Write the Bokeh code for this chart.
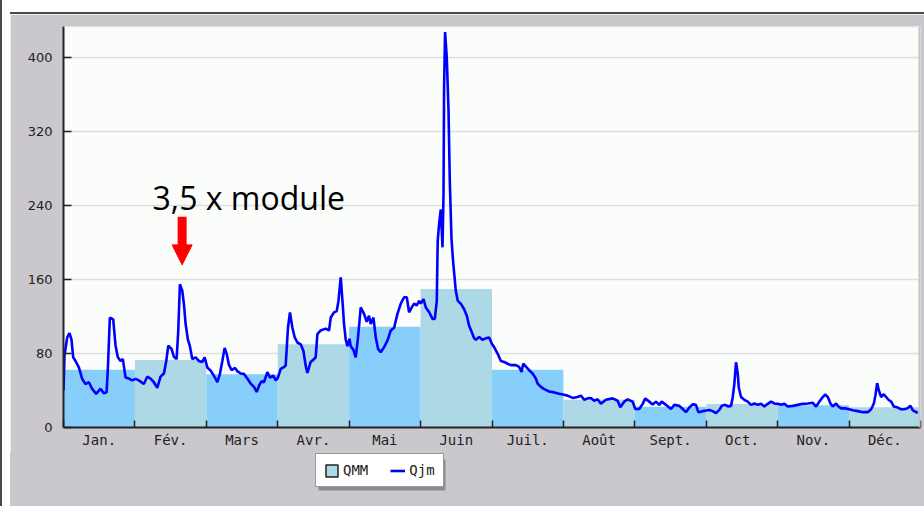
from bokeh.plotting import figure
from bokeh.models import (Range1d, FixedTicker, Label, Arrow, NormalHead, Legend,
                          LegendItem, Span, ColumnDataSource, Spacer, Div)
from bokeh.layouts import column, row
from bokeh.embed import file_html
from bokeh.resources import INLINE

months = ["Jan.", "Fév.", "Mars", "Avr.", "Mai", "Juin", "Juil.", "Août",
          "Sept.", "Oct.", "Nov.", "Déc."]
qmm = [62.5, 73, 57.5, 90, 109, 150, 62.5, 30, 22.5, 25.5, 24, 22]
y_ticks = [0, 80, 160, 240, 320, 400]
legend_labels = ["QMM", "Qjm"]

# daily flow (position in months from 1 January, value)
qjm_t = [0.0, 0.014, 0.052, 0.084, 0.112, 0.136, 0.168, 0.215, 0.262, 0.308, 0.355, 0.402,
         0.458, 0.518, 0.565, 0.603, 0.621, 0.649, 0.696, 0.729, 0.761, 0.799, 0.831, 0.869,
         0.915, 0.963, 1.009,
         1.055, 1.125, 1.173, 1.219, 1.265, 1.313, 1.359, 1.406, 1.439, 1.467, 1.513, 1.546,
         1.584, 1.607, 1.630, 1.663, 1.686, 1.710, 1.742, 1.770, 1.803, 1.850, 1.896, 1.944,
         1.976,
         2.014, 2.060, 2.106, 2.154, 2.190, 2.224, 2.256, 2.284, 2.316, 2.354, 2.401, 2.434,
         2.480, 2.527, 2.574, 2.620, 2.667, 2.705, 2.737, 2.771, 2.807, 2.855, 2.891, 2.939,
         2.971, 3.003,
         3.041, 3.079, 3.111, 3.143, 3.171, 3.205, 3.237, 3.275, 3.321, 3.359, 3.391, 3.415,
         3.461, 3.508, 3.531, 3.555, 3.601, 3.671, 3.718, 3.742, 3.788, 3.826, 3.850, 3.882,
         3.906, 3.928, 3.952, 3.976, 4.004,
         4.022, 4.060, 4.092, 4.124, 4.162, 4.208, 4.246, 4.278, 4.302, 4.340, 4.372, 4.405,
         4.442, 4.489, 4.536, 4.582, 4.629, 4.676, 4.723, 4.769, 4.807, 4.839, 4.877, 4.909,
         4.947, 4.979, 5.003,
         5.041, 5.073, 5.119, 5.167, 5.199, 5.227, 5.235, 5.240, 5.259, 5.283, 5.307, 5.321,
         5.329, 5.343, 5.367, 5.391, 5.409, 5.433, 5.455, 5.493, 5.521, 5.563, 5.610, 5.647,
         5.680, 5.713, 5.750, 5.774, 5.820, 5.867, 5.914, 5.960, 6.002,
         6.030, 6.078, 6.124, 6.170, 6.218, 6.264, 6.334, 6.380, 6.414, 6.437, 6.474, 6.521,
         6.568, 6.614, 6.638, 6.684, 6.731, 6.801, 6.871, 6.941, 7.007,
         7.058, 7.129, 7.199, 7.245, 7.291, 7.339, 7.385, 7.431, 7.479, 7.525, 7.595, 7.689,
         7.759, 7.796, 7.852, 7.899, 7.969, 8.006,
         8.062, 8.110, 8.146, 8.202, 8.250, 8.296, 8.342, 8.376, 8.436, 8.506, 8.553, 8.623,
         8.670, 8.716, 8.763, 8.810, 8.856, 8.889, 8.950, 9.001,
         9.043, 9.091, 9.137, 9.183, 9.217, 9.263, 9.309, 9.347, 9.371, 9.393, 9.417, 9.441,
         9.455, 9.487, 9.533, 9.581, 9.627, 9.673, 9.721, 9.767, 9.813, 9.861, 9.907, 9.954,
         10.001,
         10.048, 10.094, 10.141, 10.212, 10.282, 10.352, 10.422, 10.492, 10.538, 10.584,
         10.632, 10.664, 10.702, 10.739, 10.772, 10.818, 10.851, 10.888, 10.944, 11.000,
         11.052, 11.122, 11.192, 11.262, 11.309, 11.347, 11.369, 11.393, 11.417, 11.449,
         11.487, 11.519, 11.551, 11.589, 11.627, 11.683, 11.729, 11.775, 11.813, 11.860,
         11.893, 11.940, 11.963]
qjm_v = [40, 78, 97.6, 102, 95, 76, 72, 65, 52.6, 47, 49, 41.8,
         36.4, 42, 37, 38, 63, 119, 117, 88.6, 76, 72, 74, 54,
         53, 51, 52.6,
         51, 47, 55, 53, 49, 43, 55, 58.5, 72, 88.6, 85, 76.5,
         74, 105, 155, 148, 133.7, 112, 95, 88, 74, 76, 72, 71,
         76,
         65, 61.6, 56, 49, 58, 72, 86, 80, 68, 62, 64.5, 61,
         58.5, 58, 53, 47.6, 44, 38.5, 45, 50, 49, 60, 54, 56,
         51, 54,
         63.5, 65, 67, 108, 124.6, 108, 97.6, 92, 90, 83, 67, 59,
         71, 74, 76, 101, 105, 107, 105, 119, 124.6, 126, 137, 162.5,
         137, 112, 95, 88, 96,
         88, 84, 76, 97.6, 130, 123, 114.5, 121, 112, 119, 97.6, 85,
         81.5, 87, 94, 105, 108, 123, 134, 141, 141, 124.6, 130, 134,
         132, 137, 134,
         139, 130, 125, 117.5, 117.5, 137, 180, 202, 220, 236, 195, 252,
         368, 428, 400, 344, 267, 204, 180, 148, 137, 134, 128, 121,
         110, 104, 96.5, 95, 98, 95, 96.5, 97.5, 90,
         87, 80, 72, 71, 69, 67.5, 67.5, 65.5, 60, 69, 66, 62,
         58.5, 53, 47.6, 44, 41.5, 39, 38, 36.5, 35.5,
         34.5, 32, 33, 34.5, 30, 31.5, 32, 29, 30.5, 25.6, 30, 31.5,
         29, 22, 28, 30.5, 28, 20,
         20, 25.6, 31.5, 28, 25, 28, 24.5, 28, 24.5, 20, 24.5, 23.4,
         20, 16.6, 21.6, 25, 24.5, 16.6, 17.7, 18.4,
         19, 17.7, 15.5, 19, 23.4, 24.5, 22.7, 23.4, 32.8, 47, 70.6, 58.6,
         43.6, 33, 30, 28, 24.5, 26, 24.5, 25.6, 22.7, 25.6, 28, 26,
         25.6,
         24.5, 25.6, 22.7, 23.4, 24.5, 25.6, 26, 26.7, 22.7, 28,
         33, 35.7, 33, 26, 22.7, 26, 22.7, 20.7, 20.7, 19.7,
         18.6, 17.7, 16.6, 16.6, 19.7, 26, 35, 48, 40, 33,
         36, 33, 30, 28, 22.7, 21.6, 19.7, 19.7, 20.7, 23.4,
         18.6, 16.6, 16]

annotation_text = "3,5 x module"
annotation_pos = (1.247, 249)
arrow_x = 1.661
arrow_y = (228, 176)

BG = "#CAC8CC"
BAR_A = "#87CEFA"
BAR_B = "#ADD8E6"
LINE_C = "#0000FF"

p = figure(width=914, height=438, output_backend="svg", toolbar_location=None,
           x_range=Range1d(0, 12), y_range=Range1d(0, 434),
           min_border_left=53, min_border_right=4, min_border_top=12, min_border_bottom=25)
p.border_fill_color = BG
p.background_fill_color = "#FBFDFB"
p.outline_line_color = None

n = len(months)
lefts = list(range(n))
rights = [i + 1 for i in range(n)]
colors = [BAR_A if i % 2 == 0 else BAR_B for i in range(n)]
p.quad(left=lefts, right=rights, bottom=0, top=qmm, fill_color=colors, line_color=None)
p.line(qjm_t, qjm_v, line_color=LINE_C, line_width=2.6)

# axes
centers = [i + 0.5 for i in range(n)]
p.xaxis.ticker = FixedTicker(ticks=centers, minor_ticks=list(range(n + 1)))
p.xaxis.major_label_overrides = {c: m for c, m in zip(centers, months)}
p.xaxis.major_tick_in = 0
p.xaxis.major_tick_out = 0
p.xaxis.minor_tick_in = 7
p.xaxis.minor_tick_out = 0
p.xaxis.minor_tick_line_color = "#222222"
p.xaxis.minor_tick_line_width = 1.5
p.xaxis.major_label_standoff = 4
p.xaxis.major_label_text_font = "DejaVu Sans Mono"
p.xaxis.major_label_text_font_size = "14px"
p.xaxis.major_label_text_color = "#222222"
p.xaxis.axis_line_color = "#222222"
p.xaxis.axis_line_width = 2

p.yaxis.ticker = FixedTicker(ticks=y_ticks)
p.yaxis.major_tick_in = 8
p.yaxis.major_tick_out = 0
p.yaxis.minor_tick_line_color = None
p.yaxis.major_tick_line_color = "#222222"
p.yaxis.major_tick_line_width = 1.5
p.yaxis.major_label_standoff = 11
p.yaxis.major_label_text_font = "DejaVu Sans"
p.yaxis.major_label_text_font_size = "13px"
p.yaxis.major_label_text_color = "#222222"
p.yaxis.axis_line_color = "#222222"
p.yaxis.axis_line_width = 2

p.xgrid.visible = False
p.ygrid.grid_line_color = "#DDDDDD"
p.ygrid.grid_line_width = 1.5

p.add_layout(Span(location=434, dimension="width", line_color="#BBBBBB",
                  line_dash="2 2", line_width=1.5))
p.add_layout(Span(location=12, dimension="height", line_color="#C4C4C4", line_width=4))

p.add_layout(Label(x=annotation_pos[0], y=annotation_pos[1], text=annotation_text,
                   text_font="Open Sans", text_font_size="32px", text_color="black",
                   text_baseline="alphabetic"))
p.add_layout(Arrow(x_start=arrow_x, y_start=arrow_y[0], x_end=arrow_x, y_end=arrow_y[1],
                   line_color="#FF0000", line_width=9,
                   end=NormalHead(size=20, fill_color="#FF0000", line_color="#FF0000")))

# legend strip below the chart (frame aligned with the chart, pixel units)
lg = figure(width=914, height=54, output_backend="svg", toolbar_location=None,
            x_range=Range1d(0, 857), y_range=Range1d(0, 54),
            min_border_left=53, min_border_right=4, min_border_top=0, min_border_bottom=0,
            styles={"background-color": BG})
lg.axis.visible = False
lg.grid.visible = False
lg.border_fill_color = None
lg.background_fill_color = None
lg.outline_line_color = None
# legend drop shadow
lg.quad(left=[255], right=[382], bottom=[16], top=[47], fill_color="#8C8A8E", line_color=None)
bar_src = ColumnDataSource(dict(left=[-30], right=[-20], top=[-20], bottom=[-30]))
line_src = ColumnDataSource(dict(x=[-30, -20], y=[-30, -30]))
proxy_bar = lg.quad(source=bar_src, left="left", right="right", top="top", bottom="bottom",
                    fill_color=BAR_B, line_color="#222222", line_width=1.5)
proxy_line = lg.line(source=line_src, x="x", y="y", line_color=LINE_C, line_width=2.6)
legend = Legend(items=[LegendItem(label=legend_labels[0], renderers=[proxy_bar]),
                       LegendItem(label=legend_labels[1], renderers=[proxy_line])],
                orientation="horizontal", location=(252, 19),
                label_text_font="DejaVu Sans Mono", label_text_font_size="14px",
                label_text_color="#222222", glyph_width=15, glyph_height=15,
                label_standoff=4, spacing=22, padding=8, margin=0,
                border_line_color="#333333", border_line_width=1.5,
                background_fill_color="white", background_fill_alpha=1.0)
lg.add_layout(legend, "center")

left_line = Div(text="", width=2, height=506, margin=0,
                styles={"background-color": "#4A4A4A"})
top_line = Div(text="", width=914, height=2, margin=0,
               styles={"background-color": "#4A4A4A"})
layout = row(left_line, Spacer(width=8, height=506, margin=0),
             column(Spacer(height=12, width=914, margin=0), top_line, p, lg, spacing=0),
             spacing=0)

open("out.html", "w").write(file_html(layout, INLINE))
